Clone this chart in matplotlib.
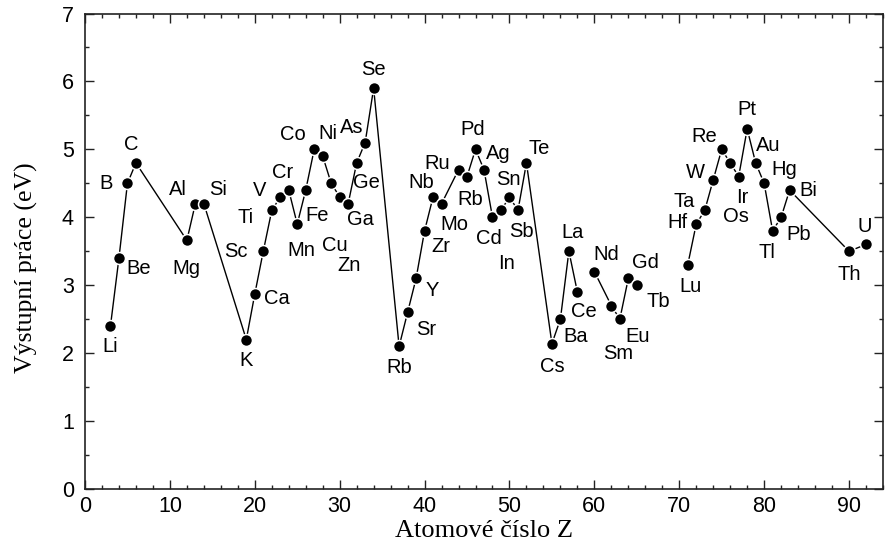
import numpy as np
import matplotlib
matplotlib.use("Agg")
import matplotlib.pyplot as plt
from matplotlib.ticker import MultipleLocator

# Work function of the elements vs. atomic number
symbols = ["Li", "Be", "B", "C", "Mg", "Al", "Si", "K", "Ca", "Sc", "Ti", "V", "Cr",
           "Mn", "Fe", "Co", "Ni", "Cu", "Zn", "Ga", "Ge", "As", "Se", "Rb", "Sr",
           "Y", "Zr", "Nb", "Mo", "Ru", "Rb", "Pd", "Ag", "Cd", "In", "Sn", "Sb",
           "Te", "Cs", "Ba", "La", "Ce", "Nd", "Sm", "Eu", "Gd", "Tb", "Lu", "Hf",
           "Ta", "W", "Re", "Os", "Ir", "Pt", "Au", "Hg", "Tl", "Pb", "Bi", "Th", "U"]
atomic_number = [3, 4, 5, 6, 12, 13, 14, 19, 20, 21, 22, 23, 24,
                 25, 26, 27, 28, 29, 30, 31, 32, 33, 34, 37, 38,
                 39, 40, 41, 42, 44, 45, 46, 47, 48, 49, 50, 51,
                 52, 55, 56, 57, 58, 60, 62, 63, 64, 65, 71, 72,
                 73, 74, 75, 76, 77, 78, 79, 80, 81, 82, 83, 90, 92]
work_function = [2.4, 3.4, 4.5, 4.8, 3.66, 4.2, 4.2, 2.2, 2.87, 3.5, 4.1, 4.3, 4.4,
                 3.9, 4.4, 5.0, 4.9, 4.5, 4.3, 4.2, 4.8, 5.1, 5.9, 2.1, 2.6,
                 3.1, 3.8, 4.3, 4.2, 4.7, 4.6, 5.0, 4.7, 4.0, 4.1, 4.3, 4.1,
                 4.8, 2.14, 2.5, 3.5, 2.9, 3.2, 2.7, 2.5, 3.1, 3.0, 3.3, 3.9,
                 4.1, 4.55, 5.0, 4.8, 4.6, 5.3, 4.8, 4.5, 3.8, 4.0, 4.4, 3.5, 3.6]
# the connecting line is interrupted after these atomic numbers
line_breaks_after = [58, 65]

# label offsets (pixels, x right / y up) for each symbol, in list order
label_offsets = [(0, -21), (20, -10), (-21, 0), (-5, 18), (0, -28), (-17, 14), (14, 14),
                 (0, -21), (22, -4), (-27, 0), (-26, -7), (-21, 6), (-6, 18),
                 (4, -26), (11, -25), (-21, 15), (5, 23), (4, -62), (9, -69),
                 (12, -16), (10, -20), (-13, 15), (0, 19), (0, -21), (19, -17),
                 (16, -12), (16, -16), (-12, 14), (13, -21), (-21, 6), (3, -23),
                 (-3, 20), (14, 16), (-4, -21), (6, -53), (-1, 17), (3, -21),
                 (13, 14), (0, -23), (15, -17), (4, 19), (6, -19), (12, 17),
                 (7, -48), (18, -17), (17, 16), (22, -16), (3, -22), (-19, 2),
                 (-21, 9), (-18, 7), (-17, 13), (6, -54), (4, -21), (0, 19),
                 (13, 17), (20, 14), (-6, -22), (18, -17), (19, 0), (0, -23), (-1, 18)]

sans = ["Liberation Sans", "DejaVu Sans"]
serif = ["Liberation Serif", "DejaVu Serif"]

fig = plt.figure(figsize=(8.85, 5.48), dpi=100)
ax = fig.add_axes([85 / 885, 59 / 548, 798 / 885, 475.5 / 548])

# build the line with NaN gaps
lx, ly = [], []
for z, w in zip(atomic_number, work_function):
    lx.append(z)
    ly.append(w)
    if z in line_breaks_after:
        lx.append(np.nan)
        ly.append(np.nan)
ax.plot(lx, ly, color="black", lw=1.0, zorder=2)
ax.plot(atomic_number, work_function, linestyle="none", marker="o", markersize=8.6,
        markerfacecolor="black", markeredgecolor="white", markeredgewidth=1.1, zorder=3)

for s, z, w, (dx, dy) in zip(symbols, atomic_number, work_function, label_offsets):
    ax.annotate(s, (z, w), xytext=(dx, dy), textcoords="offset pixels",
                ha="center", va="center", fontsize=14.5, family=sans, zorder=4)

ax.set_xlim(0, 94)
ax.set_ylim(0, 7)
ax.xaxis.set_major_locator(MultipleLocator(10))
ax.xaxis.set_minor_locator(MultipleLocator(2))
ax.yaxis.set_major_locator(MultipleLocator(1))
ax.yaxis.set_minor_locator(MultipleLocator(0.5))
ax.tick_params(which="both", direction="in", top=True, right=True, width=1.0, color="#222222")
ax.tick_params(which="major", length=6.5)
ax.tick_params(which="minor", length=3)
ax.tick_params(axis="x", which="major", pad=5, labelsize=15.5)
ax.tick_params(axis="y", which="major", pad=8, labelsize=15.5)
for lab in ax.get_xticklabels() + ax.get_yticklabels():
    lab.set_family(sans)
for sp in ax.spines.values():
    sp.set_linewidth(1.2)
    sp.set_color("#222222")

ax.set_xlabel("Atomové číslo Z", family=serif, fontsize=19, labelpad=2)
ax.set_ylabel("Výstupní práce (eV)", family=serif, fontsize=18.5)
ax.yaxis.set_label_coords(-0.059, 0.466)

fig.savefig("out.png", dpi=100)
